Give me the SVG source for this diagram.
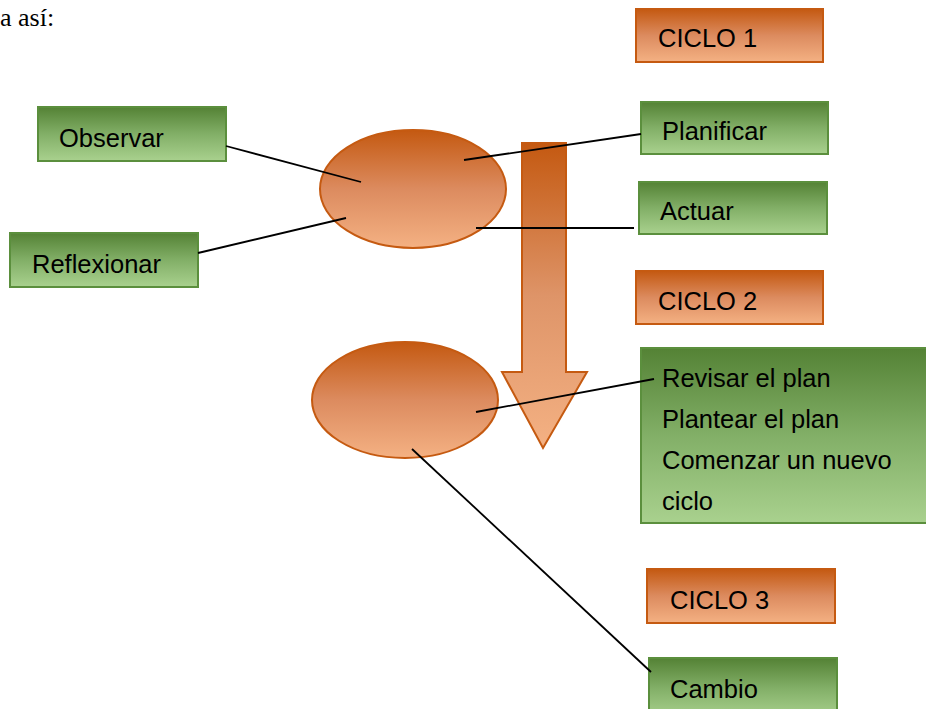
<svg xmlns="http://www.w3.org/2000/svg" width="926" height="709" viewBox="0 0 926 709">
<defs>
<linearGradient id="og" x1="0" y1="0" x2="0" y2="1">
<stop offset="0" stop-color="#C45911"/>
<stop offset="0.5" stop-color="#DC8B5F"/>
<stop offset="1" stop-color="#F4B183"/>
</linearGradient>
<linearGradient id="gg" x1="0" y1="0" x2="0" y2="1">
<stop offset="0" stop-color="#548235"/>
<stop offset="0.5" stop-color="#82AF67"/>
<stop offset="1" stop-color="#A9D18E"/>
</linearGradient>
<linearGradient id="ag" gradientUnits="userSpaceOnUse" x1="0" y1="143" x2="0" y2="448">
<stop offset="0" stop-color="#C45911"/>
<stop offset="0.5" stop-color="#DE9468"/>
<stop offset="1" stop-color="#F4B183"/>
</linearGradient>
</defs>
<style>
.o{fill:url(#og);stroke:#C55A11;stroke-width:2}
.g{fill:url(#gg);stroke:#5B8F3D;stroke-width:2}
.t{font-family:"Liberation Sans",Arial,sans-serif;font-size:25.5px;fill:#000}
.c{stroke:#000;stroke-width:1.8;fill:none}
</style>
<text x="0" y="26" font-family="Liberation Serif,Times New Roman,serif" font-size="26" fill="#000">a así:</text>
<g id="arrow"><path d="M522,143 H566 V372 H587 L543,448 L502,372 H522 Z" fill="url(#ag)" stroke="#C55A11" stroke-width="2"/></g>
<g id="ellipse1"><ellipse cx="413" cy="189" rx="93" ry="59" class="o"/></g>
<g id="ellipse2"><ellipse cx="405" cy="400" rx="93" ry="58" class="o"/></g>
<g id="ciclo1"><rect x="636" y="9" width="187" height="53" class="o"/><text x="658" y="47" class="t">CICLO 1</text></g>
<g id="observar"><rect x="38" y="107" width="188" height="54" class="g"/><text x="59" y="147" class="t">Observar</text></g>
<g id="planificar"><rect x="641" y="102" width="187" height="52" class="g"/><text x="662" y="140" class="t">Planificar</text></g>
<g id="actuar"><rect x="639" y="182" width="188" height="52" class="g"/><text x="660" y="220" class="t">Actuar</text></g>
<g id="reflexionar"><rect x="10" y="233" width="188" height="54" class="g"/><text x="32" y="273" class="t">Reflexionar</text></g>
<g id="ciclo2"><rect x="636" y="271" width="187" height="53" class="o"/><text x="658" y="310" class="t">CICLO 2</text></g>
<g id="revisar"><rect x="641" y="348" width="290" height="175" class="g"/>
<text class="t"><tspan x="662" y="387">Revisar el plan</tspan><tspan x="662" y="428">Plantear el plan</tspan><tspan x="662" y="469">Comenzar un nuevo</tspan><tspan x="662" y="510">ciclo</tspan></text></g>
<g id="ciclo3"><rect x="647" y="569" width="188" height="54" class="o"/><text x="670" y="609" class="t">CICLO 3</text></g>
<g id="cambio"><rect x="649" y="658" width="188" height="60" class="g"/><text x="670" y="698" class="t">Cambio</text></g>
<g id="connectors">
<line x1="226" y1="146" x2="361" y2="182" class="c"/>
<line x1="198" y1="253" x2="346" y2="218" class="c"/>
<line x1="464" y1="160" x2="641" y2="134" class="c"/>
<line x1="476" y1="228" x2="634" y2="228" class="c"/>
<line x1="476" y1="412" x2="654" y2="379" class="c"/>
<line x1="412" y1="449" x2="651" y2="672" class="c"/>
</g>
</svg>
